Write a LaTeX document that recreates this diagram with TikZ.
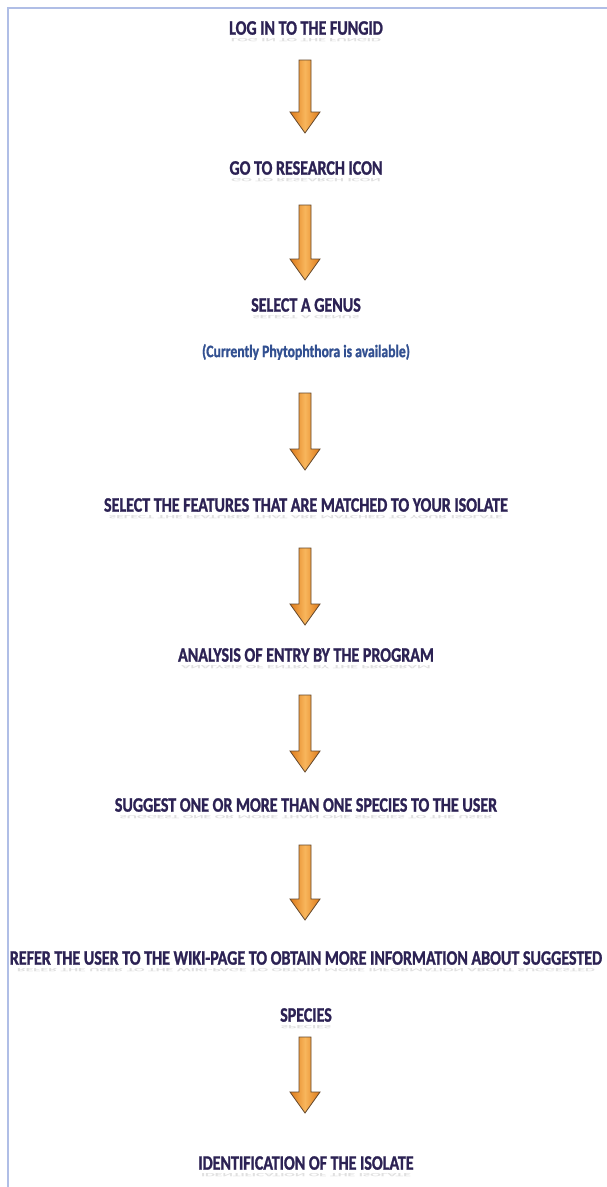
\documentclass[tikz,border=0pt]{standalone}
\usepackage{fontspec}
\setmainfont{Carlito}
\newfontfamily\condfont[FakeStretch=0.78,FakeBold=1.2]{Carlito}
\usetikzlibrary{calc}
\definecolor{txt}{RGB}{44,34,84}
\definecolor{bluetxt}{RGB}{50,80,145}
\definecolor{framecol}{RGB}{176,190,230}
\definecolor{arrowdark}{RGB}{100,72,45}
\definecolor{arrowor}{RGB}{222,122,26}
\definecolor{arrowlight}{RGB}{248,182,92}
\tikzset{
  stepnode/.style={font=\condfont\bfseries\fontsize{20.5}{22}\selectfont, text=txt, inner sep=0pt},
  notenode/.style={font=\condfont\bfseries\fontsize{17.5}{20}\selectfont, text=bluetxt, inner sep=0pt},
  reflnode/.style={font=\rmfamily\bfseries\fontsize{20}{22}\selectfont, text=black!40, opacity=0.3, inner sep=0pt, anchor=north},
  blockarrow/.style={draw=arrowdark, line width=0.8pt, line join=miter, left color=arrowor, right color=arrowor, middle color=arrowlight},
}
\newcommand\flowarrow[2]{%
  \path let \p1=(#1), \p2=(#2) in
    [blockarrow] (\x1-6pt,\y1) -- (\x1+6pt,\y1) -- (\x1+6pt,\y2+21pt) -- (\x1+15pt,\y2+21pt)
    -- (\x1,\y2) -- (\x1-15pt,\y2+21pt) -- (\x1-6pt,\y2+21pt) -- cycle;}
\newcommand\flowtext[3]{% name, y, text
  \node[stepnode] (#1) at (306,#2) {#3};
  \node[reflnode] (#1r) at ($(#1.south)+(0,-3pt)$) {\scalebox{0.78}[-0.25]{#3}};}
\begin{document}
\begin{tikzpicture}[x=1pt,y=-1pt]
\useasboundingbox (0,0) rectangle (607,1187);
\fill[white] (0,0) rectangle (607,1187);
\coordinate (fl) at (8,1187);
\coordinate (fc) at (8,8);
\coordinate (fr) at (607,8);
\draw[framecol, line width=2.5pt] (fl) -- (fc) -- (fr);

\flowtext{t1}{28}{LOG IN TO THE FUNGID}
\flowtext{t2}{168}{GO TO RESEARCH ICON}
\flowtext{t3}{305}{SELECT A GENUS}
\node[notenode] (n3) at (306,352) {(Currently Phytophthora is available)};
\flowtext{t4}{505}{SELECT THE FEATURES THAT ARE MATCHED TO YOUR ISOLATE}
\flowtext{t5}{655}{ANALYSIS OF ENTRY BY THE PROGRAM}
\flowtext{t6}{805}{SUGGEST ONE OR MORE THAN ONE SPECIES TO THE USER}
\flowtext{t7}{958}{REFER THE USER TO THE WIKI-PAGE TO OBTAIN MORE INFORMATION ABOUT SUGGESTED}
\flowtext{t7b}{1015}{SPECIES}
\flowtext{t8}{1163}{IDENTIFICATION OF THE ISOLATE}

\coordinate (a1s) at (305,60);   \coordinate (a1e) at (305,133);
\coordinate (a2s) at (305,205);  \coordinate (a2e) at (305,280);
\coordinate (a3s) at (305,393);  \coordinate (a3e) at (305,470);
\coordinate (a4s) at (305,548);  \coordinate (a4e) at (305,625);
\coordinate (a5s) at (305,695);  \coordinate (a5e) at (305,772);
\coordinate (a6s) at (305,845);  \coordinate (a6e) at (305,920);
\coordinate (a7s) at (305,1037); \coordinate (a7e) at (305,1113);
\flowarrow{a1s}{a1e}
\flowarrow{a2s}{a2e}
\flowarrow{a3s}{a3e}
\flowarrow{a4s}{a4e}
\flowarrow{a5s}{a5e}
\flowarrow{a6s}{a6e}
\flowarrow{a7s}{a7e}
\end{tikzpicture}
\end{document}
